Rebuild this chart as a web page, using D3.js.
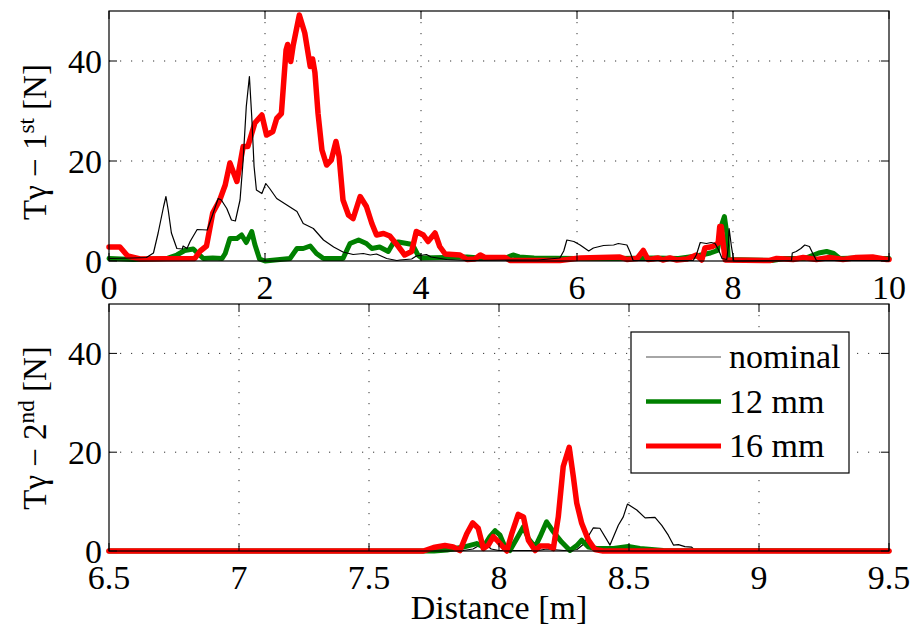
<!DOCTYPE html>
<html>
<head>
<meta charset="utf-8">
<script src="https://cdn.jsdelivr.net/npm/d3@7"></script>
<style>
  body { margin: 0; background: #fff; }
  svg text { font-family: "Liberation Serif", "Times New Roman", serif; fill: #000; }
</style>
</head>
<body>
<div id="chart"></div>
<script>
// tick values
var topXTicks = [0, 2, 4, 6, 8, 10];
var botXTicks = [6.5, 7, 7.5, 8, 8.5, 9, 9.5];
var yTicks = [0, 20, 40];

// series, [distance m, force N]
var topNominal = [[0,0.5],[0.31,0.6],[0.48,0.7],[0.57,1.6],[0.63,5.6],[0.70,10.9],[0.73,12.9],[0.76,10.1],[0.80,5.6],[0.87,2.5],[0.94,2.4],[0.95,3.0],[1.00,2.5],[1.04,3.9],[1.13,6.3],[1.26,6.2],[1.32,8.9],[1.40,12.5],[1.44,12.2],[1.51,10.5],[1.57,8.2],[1.62,8.0],[1.68,12.2],[1.72,20.2],[1.76,30.9],[1.80,36.9],[1.83,28.9],[1.86,18.9],[1.89,14.2],[1.96,13.5],[2.01,15.5],[2.06,14.5],[2.15,12.5],[2.28,11.2],[2.41,9.9],[2.49,7.5],[2.62,6.5],[2.75,4.2],[2.88,2.8],[3.00,1.8],[3.13,1.3],[3.26,1.5],[3.35,1.2],[3.43,1.4],[3.56,0.5],[3.69,0.1],[3.73,0.2],[3.88,0.4],[3.94,1.0],[4.07,1.3],[4.13,0.8],[4.33,0.3],[4.6,0.1],[5.5,0.2],[5.78,0.6],[5.83,2.0],[5.87,4.2],[5.96,3.9],[6.04,3.2],[6.15,2.0],[6.21,2.6],[6.34,3.1],[6.47,3.2],[6.53,3.5],[6.64,3.2],[6.68,1.8],[6.72,0.1],[7.49,0.1],[7.53,1.2],[7.58,3.7],[7.66,3.5],[7.72,3.7],[7.77,3.5],[7.81,2.4],[7.86,0.5],[7.92,0.3],[7.94,3.0],[7.95,6.5],[7.98,2.9],[8.01,0],[8.75,0.1],[8.76,1.6],[8.81,1.9],[8.87,2.5],[8.92,3.2],[8.98,2.9],[9.02,1.6],[9.07,0.1],[10,0.1]];
var top12mm = [[0,0.5],[0.31,0.3],[0.74,0.5],[0.87,1.2],[0.97,2.1],[1.08,2.4],[1.14,1.5],[1.21,0.5],[1.33,0.6],[1.45,0.5],[1.49,1.5],[1.55,4.5],[1.64,4.5],[1.70,5.2],[1.76,3.7],[1.83,5.9],[1.87,3.3],[1.93,0.4],[2.00,0.0],[2.32,0.5],[2.41,2.5],[2.49,2.5],[2.58,3.0],[2.66,1.5],[2.75,0.5],[3.00,0.5],[3.09,3.5],[3.20,4.2],[3.30,3.5],[3.37,2.5],[3.47,2.8],[3.58,1.9],[3.64,3.5],[3.71,3.8],[3.82,3.5],[3.89,3.3],[3.96,1.2],[4.01,0.6],[4.59,0.8],[4.75,0.6],[5.10,0.7],[5.18,1.2],[5.26,0.8],[5.45,0.6],[6.0,0.5],[6.5,0.5],[7.0,0.6],[7.3,0.5],[7.53,1.0],[7.71,1.6],[7.80,2.1],[7.86,7.5],[7.89,8.9],[7.92,5.6],[7.94,0.3],[8.5,0.1],[8.66,0.5],[8.92,0.5],[9.00,1.0],[9.10,1.6],[9.20,1.9],[9.29,1.5],[9.37,0.5],[9.6,0.6],[9.8,0.5],[10,0.5]];
var top16mm = [[0,2.8],[0.14,2.8],[0.24,1.0],[0.40,0.4],[1.10,0.5],[1.17,2.0],[1.25,3.0],[1.33,9.6],[1.42,12.2],[1.49,15.2],[1.55,19.6],[1.64,15.9],[1.72,22.9],[1.78,22.9],[1.87,27.6],[1.96,29.2],[2.02,25.2],[2.10,25.9],[2.15,28.5],[2.21,29.5],[2.27,42.2],[2.29,43.3],[2.33,39.9],[2.36,43.0],[2.44,49.2],[2.51,45.6],[2.58,38.9],[2.61,40.4],[2.64,37.7],[2.68,29.5],[2.73,22.2],[2.79,19.2],[2.85,20.2],[2.91,23.9],[2.95,20.9],[3.00,12.2],[3.07,9.2],[3.13,8.5],[3.22,12.9],[3.30,10.9],[3.37,7.5],[3.43,5.2],[3.52,5.5],[3.60,5.0],[3.71,2.9],[3.79,1.2],[3.88,1.9],[3.94,5.9],[4.03,5.2],[4.09,3.9],[4.18,5.6],[4.24,2.9],[4.31,1.4],[4.50,1.2],[4.59,0.3],[4.69,0.4],[4.76,1.2],[4.82,0.7],[5.08,0.7],[5.14,0.1],[5.78,0.1],[6.04,0.6],[6.55,0.8],[6.64,0.3],[6.77,0.5],[6.85,2.1],[6.91,0.3],[6.97,0.4],[7.04,0.6],[7.10,0.2],[7.19,0.6],[7.28,0.2],[7.41,0.4],[7.53,1.2],[7.60,0.2],[7.64,2.6],[7.74,2.9],[7.81,3.6],[7.83,6.9],[7.85,6.9],[7.87,4.0],[7.90,0.2],[8.47,0.1],[8.56,0.5],[8.77,0.3],[8.90,0.7],[9.07,0.3],[9.24,0.7],[9.41,0.3],[9.58,0.7],[9.79,0.8],[9.97,0.3],[10,0.3]];

var botNominal = [[6.5,0],[7.85,0],[7.90,0.4],[7.927,1.2],[7.95,1.3],[7.97,0.4],[8.0,0.1],[8.15,0.1],[8.183,0.4],[8.25,0.1],[8.30,0.3],[8.324,1.3],[8.363,4.7],[8.388,4.6],[8.427,1.2],[8.459,5.2],[8.478,6.9],[8.494,9.5],[8.53,8.3],[8.562,6.7],[8.60,6.8],[8.626,5.2],[8.651,3.2],[8.671,1.2],[8.69,1.3],[8.715,0.9],[8.741,0.8],[8.754,0.1],[9.5,0]];
var bot12mm = [[6.5,0],[7.75,0],[7.80,0.2],[7.863,0.8],[7.914,1.5],[7.94,0.8],[7.965,2.9],[7.985,4.1],[8.004,3.2],[8.023,0.8],[8.042,0.1],[8.068,2.5],[8.094,4.9],[8.113,2.5],[8.139,0.8],[8.158,2.9],[8.183,5.9],[8.209,3.9],[8.241,1.8],[8.273,0.1],[8.299,1.1],[8.318,2.2],[8.344,0.8],[8.376,0.5],[8.44,0.5],[8.497,0.9],[8.542,0.5],[8.632,0.1],[9.5,0]];
var bot16mm = [[6.5,0],[7.709,0],[7.748,0.7],[7.792,1.1],[7.824,0.8],[7.85,0.1],[7.876,3.5],[7.899,5.7],[7.92,4.6],[7.94,0.5],[7.959,1.2],[7.978,2.9],[7.997,1.9],[8.03,0],[8.049,3.5],[8.074,7.4],[8.094,6.9],[8.113,2.2],[8.139,0.1],[8.158,1.0],[8.19,1.0],[8.209,0.5],[8.228,6.9],[8.247,17.1],[8.27,21],[8.286,15],[8.299,9.7],[8.318,5.6],[8.344,2.2],[8.369,0.3],[8.40,0],[9.5,0]];

var legendNames = ["nominal", "12 mm", "16 mm"];
var colors = ["#000000", "#008000", "#ff0000"];
var widths = [1.2, 5, 5.5];

var W = 913, H = 628, left = 109, right = 889, fs = 34;

var svg = d3.select("#chart").append("svg")
    .attr("width", W).attr("height", H);

function panel(top, bottom, xDomain, xTicks, series, order) {
    var x = d3.scaleLinear().domain(xDomain).range([left, right]);
    var y = d3.scaleLinear().domain([0, 50]).range([bottom, top]);
    var g = svg.append("g");

    // dotted grid
    g.selectAll(".gx").data(xTicks.slice(1, -1)).enter().append("line")
        .attr("x1", d => x(d)).attr("x2", d => x(d))
        .attr("y1", top).attr("y2", bottom)
        .attr("stroke", "#333").attr("stroke-width", 1).attr("stroke-dasharray", "1.2,9.8");
    g.selectAll(".gy").data(yTicks.slice(1)).enter().append("line")
        .attr("x1", left).attr("x2", right)
        .attr("y1", d => y(d)).attr("y2", d => y(d))
        .attr("stroke", "#333").attr("stroke-width", 1).attr("stroke-dasharray", "1.2,9.8");

    var line = d3.line().x(d => x(d[0])).y(d => y(d[1]));
    order.forEach(function(i) {
        g.append("path").datum(series[i])
            .attr("d", line).attr("fill", "none")
            .attr("stroke", colors[i]).attr("stroke-width", widths[i])
            .attr("stroke-linejoin", "round").attr("stroke-linecap", "round");
    });

    // frame + inward ticks on all sides
    g.append("rect").attr("x", left).attr("y", top)
        .attr("width", right - left).attr("height", bottom - top)
        .attr("fill", "none").attr("stroke", "#000").attr("stroke-width", 1.2);
    var tl = 8;
    xTicks.forEach(function(t) {
        g.append("line").attr("x1", x(t)).attr("x2", x(t)).attr("y1", bottom).attr("y2", bottom - tl).attr("stroke", "#000");
        g.append("line").attr("x1", x(t)).attr("x2", x(t)).attr("y1", top).attr("y2", top + tl).attr("stroke", "#000");
    });
    yTicks.forEach(function(t) {
        g.append("line").attr("x1", left).attr("x2", left + tl).attr("y1", y(t)).attr("y2", y(t)).attr("stroke", "#000");
        g.append("line").attr("x1", right).attr("x2", right - tl).attr("y1", y(t)).attr("y2", y(t)).attr("stroke", "#000");
    });

    g.selectAll(".xl").data(xTicks).enter().append("text")
        .attr("x", d => x(d)).attr("y", bottom + 38)
        .attr("text-anchor", "middle").attr("font-size", fs)
        .text(d => d);
    g.selectAll(".yl").data(yTicks).enter().append("text")
        .attr("x", left - 7).attr("y", d => y(d) + 12)
        .attr("text-anchor", "end").attr("font-size", fs)
        .text(d => d);
    return { x: x, y: y, g: g };
}

panel(11, 261, [0, 10], topXTicks, [topNominal, top12mm, top16mm], [1, 2, 0]);
panel(304, 551, [6.5, 9.5], botXTicks, [botNominal, bot12mm, bot16mm], [0, 1, 2]);

function yLabel(cy, sup) {
    var t = svg.append("text")
        .attr("transform", "translate(46," + cy + ") rotate(-90)")
        .attr("text-anchor", "middle").attr("font-size", fs - 1);
    t.append("tspan").text("T\u03b3 \u2212 " + sup[0]);
    t.append("tspan").attr("font-size", (fs - 1) * 0.7).attr("dy", -12).text(sup[1]);
    t.append("tspan").attr("dy", 12).text(" [N]");
}
yLabel(142, ["1", "st"]);
yLabel(428, ["2", "nd"]);

svg.append("text")
    .attr("x", 499).attr("y", 619)
    .attr("text-anchor", "middle").attr("font-size", fs)
    .text("Distance [m]");

// legend
var lg = svg.append("g");
lg.append("rect").attr("x", 631).attr("y", 332).attr("width", 218).attr("height", 141)
    .attr("fill", "#fff").attr("stroke", "#000").attr("stroke-width", 1.2);
legendNames.forEach(function(name, i) {
    var ly = 357 + i * 44.5;
    lg.append("line").attr("x1", 646).attr("x2", 721).attr("y1", ly).attr("y2", ly)
        .attr("stroke", colors[i]).attr("stroke-width", widths[i] - 0.5);
    lg.append("text").attr("x", 729).attr("y", ly + 11).attr("font-size", fs).text(name);
});
</script>
</body>
</html>
